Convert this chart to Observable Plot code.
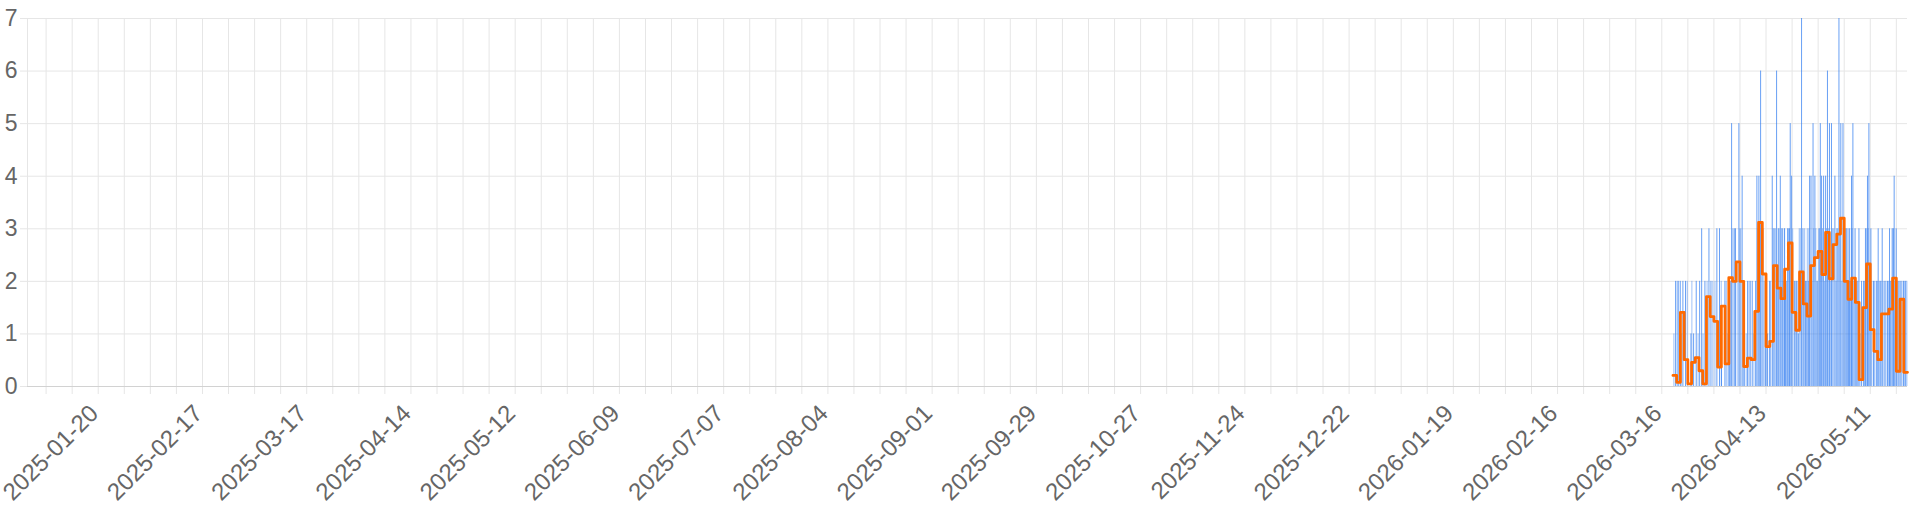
<!DOCTYPE html>
<html>
<head>
<meta charset="utf-8">
<script src="https://cdn.jsdelivr.net/npm/d3@7"></script>
<script src="https://cdn.jsdelivr.net/npm/@observablehq/plot@0.6"></script>
<style>
  html, body { margin: 0; padding: 0; background: #fff; }
  #chart { width: 1920px; height: 512px; }
</style>
</head>
<body>
<div id="chart"></div>
<script>
// ---- data ----
const xTickLabels = ["2025-01-20","2025-02-17","2025-03-17","2025-04-14","2025-05-12","2025-06-09","2025-07-07","2025-08-04","2025-09-01","2025-09-29","2025-10-27","2025-11-24","2025-12-22","2026-01-19","2026-02-16","2026-03-16","2026-04-13","2026-05-11"];
const yTicks = [0, 1, 2, 3, 4, 5, 6, 7];

// daily average (orange step line), starting 2026-03-19
const avgStart = "2026-03-19";
const avgValues = [
  0.21,0.08,1.41,0.51,0.05,0.46,0.55,0.30,0.05,1.71,1.33,1.24,0.37,1.53,0.43,2.07,
  2.00,2.37,2.00,0.38,0.54,0.51,1.43,3.12,2.14,0.76,0.86,2.30,1.87,1.67,2.23,2.73,
  1.41,1.07,2.18,1.57,1.34,2.30,2.45,2.57,2.13,2.93,2.05,2.70,2.90,3.20,2.00,1.66,
  2.06,1.60,0.13,1.50,2.33,1.08,0.67,0.51,1.38,1.38,1.47,2.06,0.29,1.66,0.27
];

// individual counts (blue strokes), 2026, "MM-DDTHH" — tall spikes
const countTimes = [
  "03-19T17","03-20T10","03-20T23","03-21T16","03-22T09","03-23T20","03-24T13","03-25T06","03-26T04","03-26T17",
  "03-27T14","03-28T16","03-29T05","03-30T19","03-31T12","04-01T01","04-01T23","04-02T20",
  "04-03T05","04-03T18","04-04T11","04-04T19","04-05T17","04-06T14","04-07T04","04-08T01","04-08T18","04-09T07",
  "04-10T05","04-10T13","04-11T02","04-11T13","04-12T04","04-12T21","04-13T10","04-13T23","04-14T16","04-15T10",
  "04-15T20","04-16T07","04-16T20","04-17T09","04-17T22","04-18T06","04-18T19","04-19T07",
  "04-19T12","04-19T21","04-20T14","04-21T03","04-21T16","04-22T13","04-22T22","04-23T15","04-24T08","04-24T17",
  "04-25T02","04-25T15","04-26T03","04-26T16","04-27T05","04-27T14","04-27T22","04-28T11","04-29T00","04-29T12",
  "04-30T01","04-30T14","05-01T12","05-02T01","05-02T14","05-03T02","05-03T16","05-04T05","05-04T17","05-05T06",
  "05-05T11","05-05T23","05-06T08","05-06T22","05-07T10","05-07T23","05-08T16","05-09T05","05-09T17","05-10T06",
  "05-10T15","05-11T04","05-11T21","05-12T15","05-13T03","05-13T16","05-14T05","05-14T22","05-15T15","05-16T04",
  "05-16T13","05-17T02","05-17T10","05-17T23","05-18T12","05-19T05","05-19T22","05-20T12"
];
const countValues = [
  2,2,2,2,2,1,1,2,2,3,
  2,3,2,3,3,1,2,1,
  2,5,3,3,5,4,2,2,2,2,
  2,4,4,6,3,2,1,2,4,3,
  6,3,4,3,3,2,3,3,
  5,4,2,2,1,7,3,2,2,4,
  4,5,4,2,3,5,4,4,4,6,
  5,5,4,3,7,5,5,3,3,2,
  3,4,5,3,2,3,2,2,3,4,
  5,3,2,2,3,2,3,2,2,3,
  2,3,4,3,2,2,2,2
];
// individual counts — the denser low strokes in between
const countTimes2 = [
  "03-19T06","03-20T03","03-21T05","03-22T20","03-24T02","03-25T18","03-27T02","03-28T04","03-29T17","03-30T07","03-31T23","04-02T08",
  "04-03T11","04-04T02","04-05T06","04-05T23","04-06T05","04-06T22","04-07T16","04-08T10","04-09T18","04-10T20","04-11T07","04-11T20",
  "04-12T12","04-13T04","04-14T05","04-14T22","04-15T03","04-16T01","04-16T13","04-17T03","04-17T15","04-18T00","04-18T12","04-19T01",
  "04-20T04","04-20T20","04-21T09","04-21T22","04-22T05","04-23T03","04-23T09","04-23T21","04-24T02","04-24T12","04-25T08","04-25T20",
  "04-26T09","04-26T21","04-27T10","04-28T04","04-28T17","04-29T06","04-29T18","04-30T07","04-30T20","05-01T04","05-01T19","05-02T07",
  "05-02T20","05-03T09","05-03T22","05-04T11","05-04T23","05-05T02","05-05T17","05-06T03","05-06T15","05-07T04","05-07T16","05-08T06",
  "05-09T11","05-09T23","05-10T10","05-10T21","05-11T10","05-12T04","05-12T22","05-13T09","05-13T22","05-14T11","05-15T05","05-15T22",
  "05-16T08","05-16T20","05-17T06","05-17T16","05-18T04","05-18T20","05-19T12","05-20T04","05-20T20"
];
const countValues2 = [
  1,2,1,2,2,1,1,2,2,2,2,2,
  2,3,2,3,3,2,1,2,1,3,3,3,
  2,2,2,3,3,2,3,3,2,3,2,3,
  3,2,2,3,3,2,3,2,3,3,2,3,
  3,2,3,3,2,3,3,2,3,3,2,3,
  3,2,3,3,2,3,2,3,2,2,2,1,
  2,3,3,2,2,2,2,2,2,2,2,2,
  2,3,3,2,2,2,2,2,2
];

// ---- build tables ----
const parseDay = d3.utcParse("%Y-%m-%d");
const parseHour = d3.utcParse("%Y-%m-%dT%H");
const fmt = d3.utcFormat("%Y-%m-%d");
const avgData = avgValues.map((v, i) => ({ t: d3.utcDay.offset(parseDay(avgStart), i), v }));
// the last step extends to the end of its day
avgData.push({ t: d3.utcDay.offset(avgData[avgData.length - 1].t, 1), v: avgValues[avgValues.length - 1] });
const counts = countTimes.map((s, i) => ({ t: parseHour("2026-" + s), v: countValues[i] }));
const counts2 = countTimes2.map((s, i) => ({ t: parseHour("2026-" + s), v: countValues2[i] }));

const xStart = parseDay("2025-01-01");
const xEnd = parseDay("2026-05-21");
const weekTicks = d3.utcMonday.range(parseDay("2025-01-06"), xEnd);
const labelDates = xTickLabels.map(parseDay);

const gridColor = "#e6e6e6";
const font = "'Liberation Sans', Arial, Helvetica, sans-serif";
const chart = Plot.plot({
  width: 1920,
  height: 512,
  marginLeft: 27,
  marginRight: 13,
  marginTop: 18,
  marginBottom: 126,
  style: { fontFamily: font, fontSize: "23px", color: "#666", background: "#fff" },
  x: { type: "utc", domain: [xStart, xEnd] },
  y: { domain: [0, 7] },
  marks: [
    Plot.gridX(weekTicks, { stroke: gridColor, strokeOpacity: 1 }),
    Plot.gridY(yTicks, { stroke: gridColor, strokeOpacity: 1 }),
    Plot.ruleX([xStart], { stroke: gridColor }),
    Plot.axisX(weekTicks, { tickSize: 8, tickFormat: () => "", stroke: gridColor, label: null }),
    Plot.text(labelDates, {
      x: d => d, text: d => fmt(d), frameAnchor: "bottom", dy: 23, dx: -4,
      rotate: -45, textAnchor: "end", lineAnchor: "middle", fontSize: 24, fill: "#666"
    }),
    Plot.axisY(yTicks, { tickSize: 7, tickPadding: 3, tickFormat: d => String(d), stroke: gridColor, fill: "#666", fontSize: 23, label: null }),
    Plot.ruleY([0], { stroke: "#d2d2d2" }),
    Plot.ruleX(counts2, { x: "t", y1: 0, y2: "v", stroke: "#2a78f0", strokeOpacity: 0.45, strokeWidth: 1 }),
    Plot.ruleX(counts, { x: "t", y1: 0, y2: "v", stroke: "#2a78f0", strokeOpacity: 0.7, strokeWidth: 1 }),
    Plot.line(avgData, { x: "t", y: "v", curve: "step-after", stroke: "#ff6a00", strokeWidth: 2.8 })
  ]
});
document.getElementById("chart").appendChild(chart);
</script>
</body>
</html>
